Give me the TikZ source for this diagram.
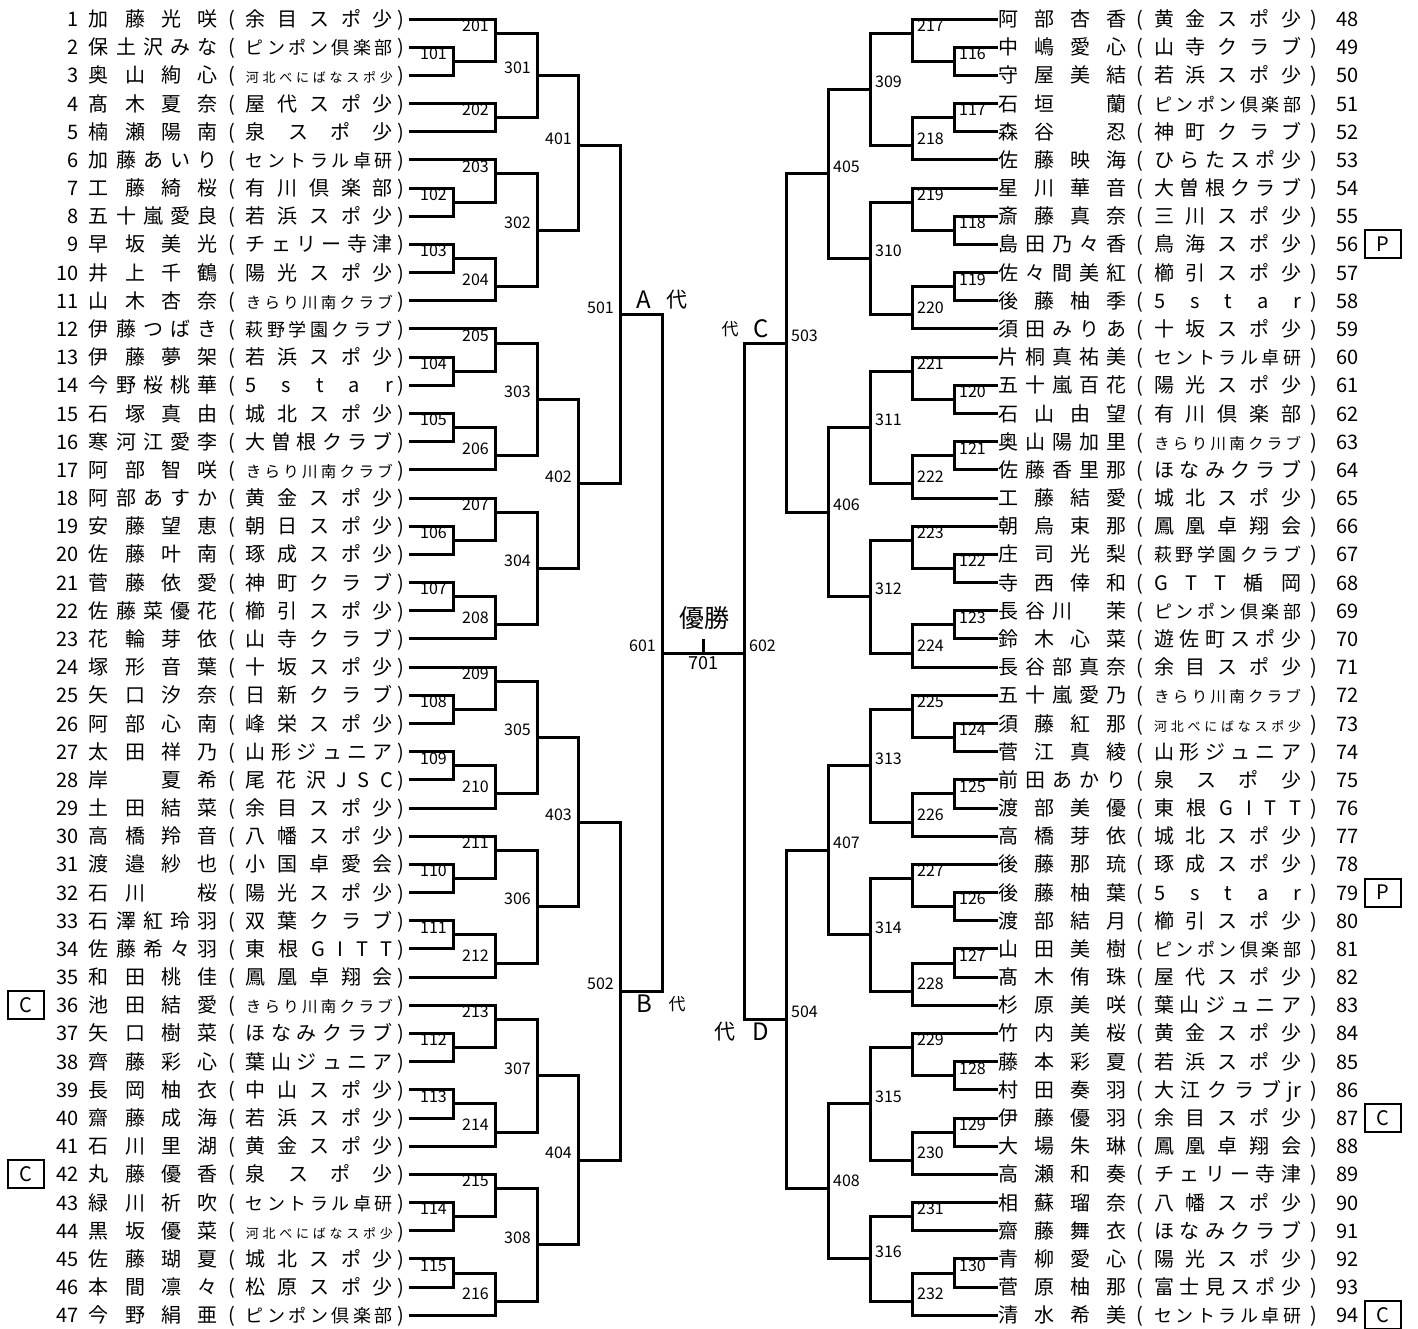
\documentclass[tikz,border=0pt]{standalone}
\usepackage{fontspec}
\setmainfont{Noto Sans CJK JP}

% spread the characters of a name over a fixed width
\makeatletter
\newcount\spr@n
\def\spr@loop{\@tfor\spr@c:=}
\newcommand\spreadtext[2]{%
  \edef\spr@list{#2}%
  \makebox[#1][s]{\let\spr@sep\relax
    \expandafter\spr@loop\spr@list\do{\spr@sep\spr@c\let\spr@sep\hfill}}}
\newcommand\clubtext[1]{%
  \edef\spr@list{#1}\spr@n=0
  \expandafter\spr@loop\spr@list\do{\advance\spr@n 1 }%
  \begingroup
  \ifnum\spr@n>8 \fontsize{13}{15}\selectfont
  \else\ifnum\spr@n>7 \fontsize{15.5}{17}\selectfont
  \else\ifnum\spr@n>6 \fontsize{18}{20}\selectfont\fi\fi\fi
  \spreadtext{147pt}{#1}\endgroup}
\makeatother

\newcommand\leftplayers{%
  1/加藤光咲/余目スポ少, 2/保土沢みな/ピンポン倶楽部, 3/奥山絢心/河北べにばなスポ少,
  4/髙木夏奈/屋代スポ少, 5/楠瀬陽南/泉スポ少, 6/加藤あいり/セントラル卓研,
  7/工藤綺桜/有川倶楽部, 8/五十嵐愛良/若浜スポ少, 9/早坂美光/チェリー寺津,
  10/井上千鶴/陽光スポ少, 11/山木杏奈/きらり川南クラブ, 12/伊藤つばき/萩野学園クラブ,
  13/伊藤夢架/若浜スポ少, 14/今野桜桃華/5star, 15/石塚真由/城北スポ少,
  16/寒河江愛李/大曽根クラブ, 17/阿部智咲/きらり川南クラブ, 18/阿部あすか/黄金スポ少,
  19/安藤望恵/朝日スポ少, 20/佐藤叶南/琢成スポ少, 21/菅藤依愛/神町クラブ,
  22/佐藤菜優花/櫛引スポ少, 23/花輪芽依/山寺クラブ, 24/塚形音葉/十坂スポ少,
  25/矢口汐奈/日新クラブ, 26/阿部心南/峰栄スポ少, 27/太田祥乃/山形ジュニア,
  28/岸　夏希/尾花沢JSC, 29/土田結菜/余目スポ少, 30/高橋羚音/八幡スポ少,
  31/渡邉紗也/小国卓愛会, 32/石川　桜/陽光スポ少, 33/石澤紅玲羽/双葉クラブ,
  34/佐藤希々羽/東根GITT, 35/和田桃佳/鳳凰卓翔会, 36/池田結愛/きらり川南クラブ,
  37/矢口樹菜/ほなみクラブ, 38/齊藤彩心/葉山ジュニア, 39/長岡柚衣/中山スポ少,
  40/齋藤成海/若浜スポ少, 41/石川里湖/黄金スポ少, 42/丸藤優香/泉スポ少,
  43/緑川祈吹/セントラル卓研, 44/黒坂優菜/河北べにばなスポ少, 45/佐藤瑚夏/城北スポ少,
  46/本間凛々/松原スポ少, 47/今野絹亜/ピンポン倶楽部}

\newcommand\rightplayers{%
  48/阿部杏香/黄金スポ少, 49/中嶋愛心/山寺クラブ, 50/守屋美結/若浜スポ少,
  51/石垣　蘭/ピンポン倶楽部, 52/森谷　忍/神町クラブ, 53/佐藤映海/ひらたスポ少,
  54/星川華音/大曽根クラブ, 55/斎藤真奈/三川スポ少, 56/島田乃々香/鳥海スポ少,
  57/佐々間美紅/櫛引スポ少, 58/後藤柚季/5star, 59/須田みりあ/十坂スポ少,
  60/片桐真祐美/セントラル卓研, 61/五十嵐百花/陽光スポ少, 62/石山由望/有川倶楽部,
  63/奥山陽加里/きらり川南クラブ, 64/佐藤香里那/ほなみクラブ, 65/工藤結愛/城北スポ少,
  66/朝烏束那/鳳凰卓翔会, 67/庄司光梨/萩野学園クラブ, 68/寺西倖和/GTT楯岡,
  69/長谷川　茉/ピンポン倶楽部, 70/鈴木心菜/遊佐町スポ少, 71/長谷部真奈/余目スポ少,
  72/五十嵐愛乃/きらり川南クラブ, 73/須藤紅那/河北べにばなスポ少, 74/菅江真綾/山形ジュニア,
  75/前田あかり/泉スポ少, 76/渡部美優/東根GITT, 77/高橋芽依/城北スポ少,
  78/後藤那琉/琢成スポ少, 79/後藤柚葉/5star, 80/渡部結月/櫛引スポ少,
  81/山田美樹/ピンポン倶楽部, 82/髙木侑珠/屋代スポ少, 83/杉原美咲/葉山ジュニア,
  84/竹内美桜/黄金スポ少, 85/藤本彩夏/若浜スポ少, 86/村田奏羽/大江クラブ{jr},
  87/伊藤優羽/余目スポ少, 88/大場朱琳/鳳凰卓翔会, 89/高瀬和奏/チェリー寺津,
  90/相蘇瑠奈/八幡スポ少, 91/齋藤舞衣/ほなみクラブ, 92/青柳愛心/陽光スポ少,
  93/菅原柚那/富士見スポ少, 94/清水希美/セントラル卓研}

% match / x of its vertical / half-row of its output / the two entries
\newcommand\leftmatches{%
  101/453/3/p2/p3, 201/495/1/p1/m101, 202/495/7/p4/p5, 301/537/4/m201/m202,
  102/453/13/p7/p8, 203/495/11/p6/m102, 103/453/17/p9/p10, 204/495/19/m103/p11,
  302/537/15/m203/m204, 401/578/9/m301/m302,
  104/453/25/p13/p14, 205/495/23/p12/m104, 105/453/29/p15/p16, 206/495/31/m105/p17,
  303/537/27/m205/m206,
  106/453/37/p19/p20, 207/495/35/p18/m106, 107/453/41/p21/p22, 208/495/43/m107/p23,
  304/537/39/m207/m208, 402/578/33/m303/m304, 501/620/21/m401/m402,
  108/453/49/p25/p26, 209/495/47/p24/m108, 109/453/53/p27/p28, 210/495/55/m109/p29,
  305/537/51/m209/m210,
  110/453/61/p31/p32, 211/495/59/p30/m110, 111/453/65/p33/p34, 212/495/67/m111/p35,
  306/537/63/m211/m212, 403/578/57/m305/m306,
  112/453/73/p37/p38, 213/495/71/p36/m112, 113/453/77/p39/p40, 214/495/79/m113/p41,
  307/537/75/m213/m214,
  114/453/85/p43/p44, 215/495/83/p42/m114, 115/453/89/p45/p46, 216/495/91/m115/p47,
  308/537/87/m215/m216, 404/578/81/m307/m308, 502/620/69/m403/m404,
  601/662/45/m501/m502}

\newcommand\rightmatches{%
  116/954/3/p49/p50, 217/912/1/p48/m116, 117/954/7/p51/p52, 218/912/9/m117/p53,
  309/870/5/m217/m218,
  118/954/15/p55/p56, 219/912/13/p54/m118, 119/954/19/p57/p58, 220/912/21/m119/p59,
  310/870/17/m219/m220, 405/828/11/m309/m310,
  120/954/27/p61/p62, 221/912/25/p60/m120, 121/954/31/p63/p64, 222/912/33/m121/p65,
  311/870/29/m221/m222,
  122/954/39/p67/p68, 223/912/37/p66/m122, 123/954/43/p69/p70, 224/912/45/m123/p71,
  312/870/41/m223/m224, 406/828/35/m311/m312, 503/786/23/m405/m406,
  124/954/51/p73/p74, 225/912/49/p72/m124, 125/954/55/p75/p76, 226/912/57/m125/p77,
  313/870/53/m225/m226,
  126/954/63/p79/p80, 227/912/61/p78/m126, 127/954/67/p81/p82, 228/912/69/m127/p83,
  314/870/65/m227/m228, 407/828/59/m313/m314,
  128/954/75/p85/p86, 229/912/73/p84/m128, 129/954/79/p87/p88, 230/912/81/m129/p89,
  315/870/77/m229/m230,
  231/912/85/p90/p91, 130/954/89/p92/p93, 232/912/91/m130/p94,
  316/870/88/m231/m232, 408/828/83/m315/m316, 504/786/71/m407/m408,
  602/744/45/m503/m504}

\begin{document}
\begin{tikzpicture}[x=1pt,y=-1pt,
  declare function={ky(\k)=19+14.09*\k;},
  wire/.style={line width=3pt},
  pl/.style={inner sep=0pt,text height=17.5pt,text depth=2.5pt,font=\fontsize{20}{22}\selectfont},
  lbl/.style={inner sep=0pt,text height=11.5pt,text depth=0pt,font=\fontsize{16}{17}\selectfont},
  seed/.style={draw,line width=2pt,minimum width=36pt,minimum height=28pt,inner sep=0pt,
               text height=14.5pt,text depth=0pt,font=\fontsize{20}{22}\selectfont},
  pool/.style={inner sep=0pt,text height=17.5pt,text depth=0pt,font=\fontsize{24}{26}\selectfont},
  daibig/.style={inner sep=0pt,font=\fontsize{21}{22}\selectfont},
  daismall/.style={inner sep=0pt,font=\fontsize{17}{18}\selectfont}
]
  \useasboundingbox (0,0) rectangle (1418,1328);

  % Players: left half ends at the line start, right half starts at the line end
  \foreach \n/\nm/\tm in \leftplayers
    \node[pl,anchor=east] (p\n) at (409,{ky(2*(\n-1))})
      {\makebox[27pt][r]{\n}\hspace{10pt}\spreadtext{129pt}{\nm}\makebox[28pt]{(}\clubtext{\tm}\makebox[16pt]{)}};
  \foreach \n/\nm/\tm in \rightplayers
    \node[pl,anchor=west] (p\n) at (998,{ky(2*(\n-48))})
      {\spreadtext{128pt}{\nm}\makebox[28pt]{(}\clubtext{\tm}\makebox[26pt]{)}\hspace{9pt}\makebox[24pt][l]{\n}};

  % Match points and their numbers
  \foreach \m/\x/\k/\a/\b in \leftmatches {
    \coordinate (m\m) at (\x,{ky(\k)});
    \node[lbl,anchor=south east] (l\m) at ({\x-6},{ky(\k)-1.5}) {\m};
  }
  \foreach \m/\x/\k/\a/\b in \rightmatches {
    \coordinate (m\m) at (\x,{ky(\k)});
    \node[lbl,anchor=south west] (l\m) at ({\x+5},{ky(\k)-1.5}) {\m};
  }

  % Bracket lines: each entry runs across, then up or down to its match
  \foreach \m/\x/\k/\a/\b in \leftmatches {
    \draw[wire] (\a) -| (m\m);
    \draw[wire] (\b) -| (m\m);
  }
  \foreach \m/\x/\k/\a/\b in \rightmatches {
    \draw[wire] (\a) -| (m\m);
    \draw[wire] (\b) -| (m\m);
  }

  % Final
  \coordinate (m701) at (703,{ky(45)});
  \coordinate (top701) at (703,639);
  \draw[wire] (m601) -- (m602);
  \draw[wire] (m701) -- (top701);
  \node[lbl,font=\fontsize{18}{19}\selectfont,anchor=north] (l701) at (703,{ky(45)+5}) {701};
  \node[inner sep=0pt,font=\fontsize{25}{26}\selectfont] (champ) at (704,618) {優勝};

  % Block letters
  \node[pool] (blkA) at (643.5,300) {A};
  \node[daibig] (daiA) at (677,300) {代};
  \node[pool] (blkC) at (761.5,329) {C};
  \node[daismall] (daiC) at (730,329) {代};
  \node[pool] (blkB) at (644,1004) {B};
  \node[daismall] (daiB) at (677,1004) {代};
  \node[pool] (blkD) at (761,1032) {D};
  \node[daibig] (daiD) at (725,1032) {代};

  % Seed marks
  \node[seed] (s36) at (26,{ky(70)}) {C};
  \node[seed] (s42) at (26,{ky(82)}) {C};
  \node[seed] (s56) at (1383,{ky(16)}) {P};
  \node[seed] (s79) at (1383,{ky(62)}) {P};
  \node[seed] (s87) at (1383,{ky(78)}) {C};
  \node[seed] (s94) at (1383,{ky(92)}) {C};
\end{tikzpicture}
\end{document}
